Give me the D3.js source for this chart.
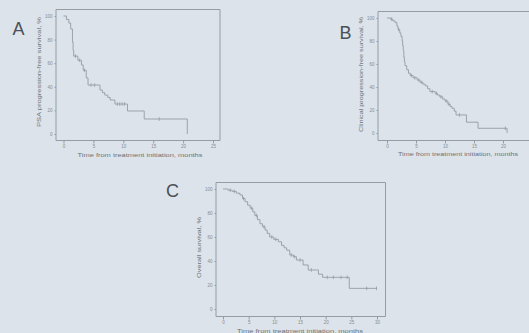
<!DOCTYPE html>
<html>
<head>
<meta charset="utf-8">
<script src="https://cdn.jsdelivr.net/npm/d3@7"></script>
<style>
  html, body { margin: 0; padding: 0; background: #dce3ea; }
  svg { display: block; }
  text { font-family: "Liberation Sans", Arial, sans-serif; }
</style>
</head>
<body>
<svg id="chart" width="529" height="333"></svg>
<script>
// ---- data ----
const panelLetters = ["A", "B", "C"];
const yTitles = [
  "PSA progression-free survival, %",
  "Clinical progression-free survival, %",
  "Overall survival, %"
];
const xTitle = "Time from treatment initiation, months";
const yTicks = [0, 20, 40, 60, 80, 100];
const xTicksA = [0, 5, 10, 15, 20, 25];
const xTicksB = [0, 5, 10, 15, 20];
const xTicksC = [0, 5, 10, 15, 20, 25, 30];

// Kaplan-Meier steps: event time (months) and survival (%) after it
const timeA = [0, 0.5, 0.9, 1.2, 1.5, 1.6, 1.7, 2.4, 3.0, 3.3, 3.8, 4.1, 6.1, 6.5, 6.9, 7.4, 7.8, 8.6, 10.7, 13.5, 20.7];
const survA = [100, 97, 94, 89, 78, 71, 66, 62.5, 58.5, 54, 47.5, 41.5, 37.3, 35, 33, 31, 28.8, 25.4, 19.5, 12.7, 0];
const censorA = [2.0, 2.7, 3.5, 4.6, 5.2, 9.0, 9.4, 9.8, 10.2, 16.0];
const endA = 20.7;

const timeB = [0, 0.6, 1.0, 1.4, 1.7, 1.9, 2.2, 2.4, 2.6, 2.7, 2.8, 2.9, 3.0, 3.1, 3.4, 3.7, 4.0, 4.5, 5.2, 5.7, 6.2, 6.6, 7.0, 7.4, 8.3, 8.7, 9.1, 9.6, 10.0, 10.5, 10.9, 11.2, 11.6, 11.9, 13.7, 15.7, 20.7];
const survB = [100, 99, 97.5, 96, 93, 90, 87, 84, 80, 76, 72, 66, 62, 58.5, 55, 52, 50, 48, 46, 44, 42.5, 41, 38.5, 36, 34.5, 33, 31.5, 29.5, 27.8, 25, 23, 21.5, 19, 15.7, 9.4, 4.1, 0];
const censorB = [0.8, 2.0, 4.2, 4.8, 5.5, 6.0, 7.8, 8.5, 9.3, 10.2, 10.7, 12.5, 20.4];
const endB = 20.7;

const timeC = [0, 1.0, 1.8, 2.6, 3.3, 3.8, 4.3, 4.8, 5.3, 5.8, 6.2, 6.7, 7.2, 7.7, 8.2, 8.6, 9.1, 9.9, 10.8, 11.4, 11.9, 12.4, 13.0, 13.7, 14.3, 15.6, 16.6, 18.6, 19.4, 24.6];
const survC = [100, 99, 98, 96.5, 95, 92, 89.4, 86.5, 84, 81, 78, 74.5, 71, 68.5, 65.8, 63, 60, 58, 56, 53, 51, 49, 45, 43.6, 40.8, 36.7, 32.5, 29, 26.4, 17.2];
const censorC = [1.4, 2.2, 4.0, 5.6, 6.5, 8.0, 9.5, 10.3, 13.3, 13.9, 15.0, 17.2, 20.3, 21.5, 23.0, 24.2, 28.0, 29.9];
const endC = 30;

// ---- drawing ----
const svg = d3.select("#chart");
const lineColor = "#959ca3";
const tickColor = "#868d94";
const titleColor = "#6b7279";

svg.append("rect").attr("width", 529).attr("height", 333).attr("fill", "#dce3ea");

const panels = [
  { letter: panelLetters[0], yTitle: yTitles[0], xTicks: xTicksA, time: timeA, surv: survA, censor: censorA, end: endA,
    left: 56, top: 9.5, right: 220, axisY: 140.5, xr: [63.5, 213], yr: [134, 16],
    letterPos: [12.5, 35], yTitlePos: [39, 72, 110], xTitlePos: [140, 157, 125] },
  { letter: panelLetters[1], yTitle: yTitles[1], xTicks: xTicksB, time: timeB, surv: survB, censor: censorB, end: endB,
    left: 378, top: 11.5, right: null, axisY: 140.5, xr: [387, 503], yr: [133, 18],
    letterPos: [339.5, 38.5], yTitlePos: [361, 74.5, 115], xTitlePos: [458, 156, 120] },
  { letter: panelLetters[2], yTitle: yTitles[2], xTicks: xTicksC, time: timeC, surv: survC, censor: censorC, end: endC,
    left: 216, top: 182.5, right: 385.5, axisY: 316.5, xr: [223, 377], yr: [309, 189],
    letterPos: [166, 196.5], yTitlePos: [199, 247.5, 61], xTitlePos: [300, 332.5, 126] }
];

panels.forEach(p => {
  const g = svg.append("g");
  const xMax = p.xTicks[p.xTicks.length - 1];
  const x = d3.scaleLinear().domain([0, xMax]).range(p.xr);
  const y = d3.scaleLinear().domain([0, 100]).range(p.yr);
  const rightEdge = p.right === null ? 540 : p.right;

  // plot frame: left, top and right borders
  const frame = d3.path();
  frame.moveTo(p.left, p.axisY);
  frame.lineTo(p.left, p.top);
  frame.lineTo(rightEdge, p.top);
  if (p.right !== null) frame.lineTo(p.right, p.axisY);
  g.append("path").attr("d", frame.toString())
    .attr("fill", "none").attr("stroke", lineColor).attr("stroke-width", 1);

  // x axis
  g.append("line")
    .attr("x1", p.left).attr("x2", rightEdge)
    .attr("y1", p.axisY).attr("y2", p.axisY)
    .attr("stroke", lineColor).attr("stroke-width", 1);
  const xa = g.append("g").attr("transform", `translate(0,${p.axisY})`)
    .call(d3.axisBottom(x).tickValues(p.xTicks).tickSize(3).tickPadding(1.5).tickFormat(d3.format("d")));
  xa.select(".domain").remove();
  xa.selectAll(".tick line").attr("stroke", lineColor);
  xa.selectAll(".tick text").attr("fill", tickColor).attr("font-size", 4.5)
    .attr("font-family", "Liberation Sans, Arial, sans-serif");

  // y axis
  const ya = g.append("g").attr("transform", `translate(${p.left},0)`)
    .call(d3.axisLeft(y).tickValues(yTicks).tickSize(1.5).tickPadding(2).tickFormat(d3.format("d")));
  ya.select(".domain").remove();
  ya.selectAll(".tick line").attr("stroke", lineColor);
  ya.selectAll(".tick text").attr("fill", tickColor).attr("font-size", 4.5)
    .attr("font-family", "Liberation Sans, Arial, sans-serif");

  // survival curve
  const pts = p.time.map((t, i) => ({ t, s: p.surv[i] }));
  pts.push({ t: p.end, s: p.surv[p.surv.length - 1] });
  const line = d3.line().x(d => x(d.t)).y(d => y(d.s)).curve(d3.curveStepAfter);
  g.append("path").datum(pts).attr("d", line)
    .attr("fill", "none").attr("stroke", lineColor).attr("stroke-width", 0.9);

  // censored observations
  const bis = d3.bisector(d => d).right;
  const survAt = t => p.surv[Math.max(0, bis(p.time, t) - 1)];
  g.selectAll("line.censor").data(p.censor).join("line")
    .attr("class", "censor")
    .attr("x1", d => x(d)).attr("x2", d => x(d))
    .attr("y1", d => y(survAt(d)) - 1.8).attr("y2", d => y(survAt(d)) + 1.8)
    .attr("stroke", lineColor).attr("stroke-width", 0.8);

  // titles
  g.append("text")
    .attr("transform", `translate(${p.yTitlePos[0]},${p.yTitlePos[1]}) rotate(-90)`)
    .attr("text-anchor", "middle").attr("dy", "0.35em")
    .attr("font-size", 6).attr("fill", titleColor)
    .attr("textLength", p.yTitlePos[2]).attr("lengthAdjust", "spacingAndGlyphs")
    .text(p.yTitle);
  g.append("text")
    .attr("x", p.xTitlePos[0] - p.xTitlePos[2] / 2).attr("y", p.xTitlePos[1])
    .attr("font-size", 6).attr("fill", titleColor)
    .attr("textLength", p.xTitlePos[2]).attr("lengthAdjust", "spacingAndGlyphs")
    .text(xTitle);
  g.append("text")
    .attr("x", p.letterPos[0]).attr("y", p.letterPos[1])
    .attr("font-size", 18).attr("fill", "#4a5057")
    .text(p.letter);
});
</script>
</body>
</html>
